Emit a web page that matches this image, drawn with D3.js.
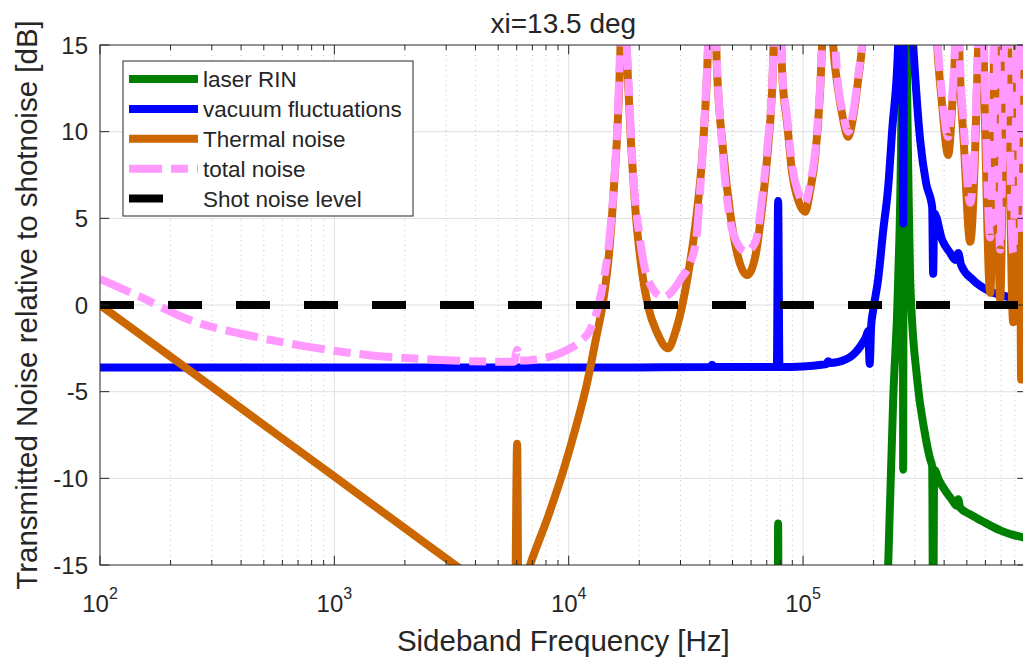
<!DOCTYPE html>
<html><head><meta charset="utf-8">
<script src="https://cdn.jsdelivr.net/npm/d3@7"></script>
<style>
body{margin:0;background:#fff}
svg{display:block}
text{font-family:"Liberation Sans",Arial,Helvetica,sans-serif;fill:#262626}
</style>
</head><body>
<svg id="c" width="1023" height="660"></svg>
<script>
// ---------------- data ----------------
const titleText = "xi=13.5 deg";
const xLabelText = "Sideband Frequency [Hz]";
const yLabelText = "Transmitted Noise relative to shotnoise [dB]";
const xDomain = [100, 900000];
const yDomain = [-15, 15];
const xMajorTicks = [1e2, 1e3, 1e4, 1e5];
const xTickExponents = ["2", "3", "4", "5"];
const yTicks = [-15, -10, -5, 0, 5, 10, 15];
const seriesNames = ["laser RIN", "vacuum fluctuations", "Thermal noise", "total noise", "Shot noise level"];
const seriesColors = ["#008000", "#0000ff", "#cc6600", "#ff99ff", "#000000"];

// [frequency Hz, dB]
const laserRIN = [
  [70000,-20],[77900,-20],[78290,-12.6],[78700,-20],[200000,-20],[224100,-20],
  [230800,-15],[242400,-5.5],[254600,1.4],[262300,10],[266000,25],[267500,-9.5],
  [269000,25],[280900,8],[286500,1.4],[306900,-4.3],[330000,-7.3],[348700,-8.9],
  [355600,-9.3],[359100,-20],[362700,-9.5],[380000,-10.1],[404100,-10.7],[430000,-11.2],
  [454700,-11.6],[459200,-11.2],[468300,-11.7],[520000,-12.1],[587100,-12.5],
  [693800,-13.0],[780000,-13.25],[900000,-13.45]
];
const vacuum = [
  [100,-3.6],[5000,-3.6],[20000,-3.6],[40000,-3.58],[40930,-3.45],[42000,-3.58],
  [77300,-3.58],[78290,6.0],[79300,-3.58],[100000,-3.55],[120000,-3.45],[126000,-3.4],
  [128000,-3.25],[131000,-3.35],[151200,-3.15],[158900,-3.0],[166900,-2.75],[175300,-2.4],
  [186000,-1.8],[189700,-1.5],[192500,-3.4],[195300,-1.2],[199200,-0.3],[209200,1.5],
  [219800,4.3],[230800,6.8],[240100,10.1],[254600,15],[264800,25],[267500,4.7],
  [270200,25],[286500,18],[295100,15],[316100,9.5],[335300,7],[355600,5.65],[359100,1.8],
  [362700,5.3],[392400,3.75],[424500,3.0],[445900,2.6],[459200,3.0],[472900,2.3],
  [532100,1.44],[610600,0.87],[693800,0.58],[800000,0.4],[900000,0.32]
];
const thermal = [
  [100,0],[300,-4.72],[1000,-9.9],[2000,-12.88],[3274,-15],[4000,-15.86],[5000,-16.82],
  [5900,-17.53],[6024,-8.0],[6100,-17.2],[6843,-15],[8168,-12.2],[9465,-9.6],
  [10755,-7.0],[11980,-4.5],[13090,-1.9],[14030,0.2],[14870,3.0],[15630,7.0],[16250,11.0],
  [16730,16.5],[17070,25],[17580,16],[17930,12.8],[19210,5.65],[20580,1.85],[21830,-0.1],
  [23840,-1.6],[26570,-2.5],[28460,-1.6],[32010,1.44],[34630,4.5],[37100,8.5],
  [38960,13.4],[40930,22],[42990,13.4],[45600,8.9],[48870,5.3],[52840,2.76],
  [57730,1.73],[62470,2.76],[66900,5.65],[70290,8.5],[73820,12.4],[77900,22],
  [81440,13.4],[85540,10.5],[89850,7.6],[95300,6.05],[102100,5.38],[107200,6.6],
  [112600,8.5],[118300,12.4],[120600,15],[127400,22],[134400,15],[141200,12.4],
  [148300,10.7],[155800,9.7],[163600,10.85],[171900,13],[178700,15],[193400,25],
  [348700,25],[373700,15],[392400,11.5],[416200,8.65],[432900,11.5],[445900,15],
  [454700,22],[463700,15],[487000,9],[516800,3.65],[542700,9],[558900,15],[575700,22],
  [598800,10],[628900,0.7],[647900,10],[660700,22],[673400,10],[693800,0.3],[714500,10],
  [736100,22],[758000,10],[788400,-1.0],[812000,10],[827900,22],[844600,5],[852600,-4.3],
  [861000,-2],[900000,1]
];
const totalNoise = [
  [100,1.5],[148,0.48],[242,-0.87],[424,-1.73],[765,-2.4],[1379,-2.88],[2826,-3.17],
  [5096,-3.27],[5848,-3.27],[6024,-2.6],[6203,-3.2],[7047,-3.17],[9464,-2.7],[11190,-2.1],
  [12340,-1.44],[13350,-0.1],[14030,1.27],[15020,4.2],[15780,7.96],[16250,11.4],
  [16650,16],[17070,25],[17580,16],[17930,13.4],[18830,7.6],[20170,3.75],[21830,1.44],
  [25290,0.46],[29890,1.44],[34630,3.35],[36380,6.6],[38210,11.4],[39360,15],[40930,22],
  [42570,15],[45600,8.5],[50290,4.15],[57170,3.07],[62470,3.6],[66900,6.2],[70290,9],
  [73820,12.6],[77900,22],[81440,13.6],[85540,10.8],[89850,8],[95300,6.5],[102100,5.88],
  [107200,7],[112600,8.8],[118300,12.6],[127400,22],[141200,12.6],[148300,11],
  [155800,10.0],[163600,11.1],[171900,13.2],[178700,15.2],[193400,25],[348700,25],
  [373700,15.5],[392400,12],[416200,9.7],[432900,12],[445900,15.5],[454700,22],
  [463700,15.5],[487000,10],[516800,5.9],[542700,10],[558900,15.5],[575700,22],
  [598800,12],[628900,3.9],[647900,12],[660700,22],[673400,12],[693800,3.2],[714500,12],
  [736100,22],[758000,12],[788400,3.0],[812000,12],[827900,22],[844600,10],[861000,4],
  [900000,6]
];
const shotNoise = [[100,0],[900000,0]];

// ---------------- layout ----------------
const L = 100, T = 45, B = 565, R = 100 + 234.35 * Math.log10(9000);
const svg = d3.select("#c");
const x = d3.scaleLog().domain(xDomain).range([L, R]);
const y = d3.scaleLinear().domain(yDomain).range([B, T]);
const axisColor = "#262626";

// minor ticks
const minorTicks = [];
for (let d = 2; d <= 5; d++) for (let m = 2; m <= 9; m++) {
  const v = m * Math.pow(10, d);
  if (v <= xDomain[1]) minorTicks.push(v);
}

// grid
const grid = svg.append("g");
grid.selectAll(".mg").data(minorTicks).join("line")
  .attr("x1", d => x(d)).attr("x2", d => x(d)).attr("y1", T).attr("y2", B)
  .attr("stroke", "#c4c4c4").attr("stroke-width", 1).attr("stroke-dasharray", "1 4");
grid.selectAll(".Mg").data(xMajorTicks.slice(1)).join("line")
  .attr("x1", d => x(d)).attr("x2", d => x(d)).attr("y1", T).attr("y2", B)
  .attr("stroke", "#dfdfdf").attr("stroke-width", 1);
grid.selectAll(".yg").data(yTicks.slice(1, -1)).join("line")
  .attr("x1", L).attr("x2", R).attr("y1", d => y(d)).attr("y2", d => y(d))
  .attr("stroke", "#dfdfdf").attr("stroke-width", 1);

// clip
svg.append("clipPath").attr("id", "plotclip").append("rect")
  .attr("x", L).attr("y", T).attr("width", R - L).attr("height", B - T);

const line = d3.line().x(d => x(d[0])).y(d => y(d[1])).curve(d3.curveMonotoneX);
const plot = svg.append("g").attr("clip-path", "url(#plotclip)");
const allSeries = [laserRIN, vacuum, thermal, totalNoise, shotNoise];
const dashes = [null, null, null, "33 9 17 9", "34 34"];
allSeries.forEach((s, i) => {
  plot.append("path").datum(s).attr("d", line)
    .attr("fill", "none").attr("stroke", seriesColors[i]).attr("stroke-width", 8)
    .attr("stroke-linejoin", "round").attr("stroke-linecap", "butt")
    .attr("stroke-dasharray", dashes[i]);
});

// axes box and ticks
const ax = svg.append("g");
ax.append("rect").attr("x", L).attr("y", T).attr("width", R - L).attr("height", B - T)
  .attr("fill", "none").attr("stroke", axisColor).attr("stroke-width", 1);
const tickSel = (data, len) => {
  ax.selectAll(null).data(data).join("line")
    .attr("x1", d => x(d)).attr("x2", d => x(d)).attr("y1", B).attr("y2", B - len)
    .attr("stroke", axisColor);
  ax.selectAll(null).data(data).join("line")
    .attr("x1", d => x(d)).attr("x2", d => x(d)).attr("y1", T).attr("y2", T + len)
    .attr("stroke", axisColor);
};
tickSel(xMajorTicks, 9.3);
tickSel(minorTicks, 5);
ax.selectAll(null).data(yTicks).join("line")
  .attr("x1", L).attr("x2", L + 9.3).attr("y1", d => y(d)).attr("y2", d => y(d)).attr("stroke", axisColor);
ax.selectAll(null).data(yTicks).join("line")
  .attr("x1", R).attr("x2", R - 9.3).attr("y1", d => y(d)).attr("y2", d => y(d)).attr("stroke", axisColor);

// tick labels
ax.selectAll(null).data(yTicks).join("text")
  .attr("x", 88).attr("y", d => y(d)).attr("dy", "0.36em").attr("text-anchor", "end")
  .attr("font-size", 24).text(d => String(d));
const xl = ax.selectAll(null).data(xMajorTicks).join("text")
  .attr("x", d => x(d)).attr("y", 612).attr("text-anchor", "middle").attr("font-size", 24);
xl.append("tspan").text("10");
xl.append("tspan").attr("font-size", 16).attr("dy", -13).text((d, i) => xTickExponents[i]);

// labels
svg.append("text").attr("x", (L + R) / 2).attr("y", 33).attr("text-anchor", "middle")
  .attr("font-size", 28).text(titleText);
svg.append("text").attr("x", (L + R) / 2).attr("y", 651).attr("text-anchor", "middle")
  .attr("font-size", 29.5).text(xLabelText);
svg.append("text").attr("transform", `translate(37,${(T + B) / 2}) rotate(-90)`)
  .attr("text-anchor", "middle").attr("font-size", 29.5).text(yLabelText);

// legend
const legendDashes = [null, null, null, "33 9 17 9", "34 40"];
const lg = svg.append("g");
lg.append("rect").attr("x", 123).attr("y", 61).attr("width", 290).attr("height", 155)
  .attr("fill", "#fff").attr("stroke", axisColor).attr("stroke-width", 1);
const rowY = d3.scaleLinear().domain([0, 4]).range([79, 198.5]);
seriesNames.forEach((n, i) => {
  lg.append("line").attr("x1", 129).attr("x2", 198).attr("y1", rowY(i)).attr("y2", rowY(i))
    .attr("stroke", seriesColors[i]).attr("stroke-width", 8).attr("stroke-dasharray", legendDashes[i]);
  lg.append("text").attr("x", 203).attr("y", rowY(i)).attr("dy", "0.36em")
    .attr("font-size", 22.5).text(n);
});
</script>
</body></html>
